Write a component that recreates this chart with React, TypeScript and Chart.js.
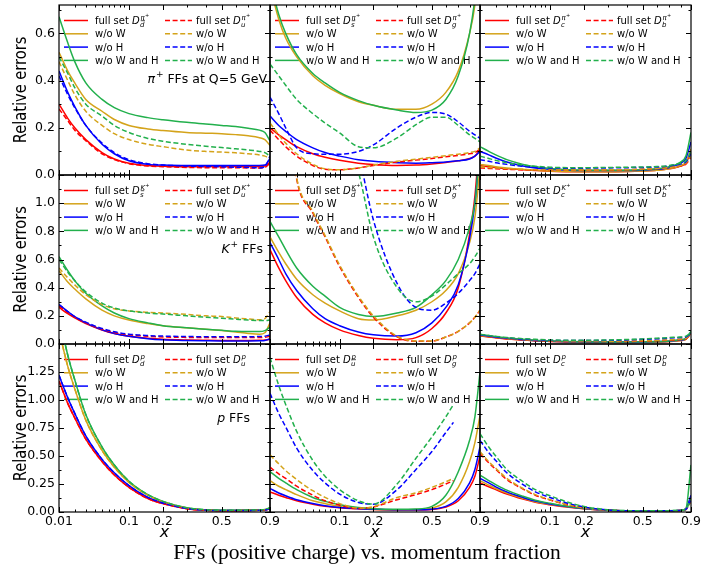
import React, { useEffect, useRef } from 'react';
import { Chart, registerables } from 'chart.js';
Chart.register(...registerables);

const W = 703;
const H = 566;

// ---------- x grid (momentum fraction) ----------
const X = [0.01, 0.015, 0.02, 0.03, 0.05, 0.07, 0.1, 0.15, 0.2, 0.3, 0.4, 0.5, 0.6, 0.7, 0.8, 0.85, 0.9];
const X_TRUNC = [0.01, 0.015, 0.02, 0.03, 0.05, 0.07, 0.1, 0.15, 0.2, 0.3, 0.4, 0.5, 0.6, 0.66];

const X_MAJOR = [0.01, 0.1, 0.2, 0.5, 0.9];
const X_MAJOR_LABELS = ['0.01', '0.1', '0.2', '0.5', '0.9'];
const X_MINOR = [0.02, 0.03, 0.04, 0.05, 0.06, 0.07, 0.08, 0.09, 0.3, 0.4, 0.6, 0.7, 0.8];

const ROW_YMAX = [0.72, 1.2, 1.5];
const ROW_Y_MAJOR = [
  [0, 0.2, 0.4, 0.6],
  [0, 0.2, 0.4, 0.6, 0.8, 1.0, 1.2],
  [0, 0.25, 0.5, 0.75, 1.0, 1.25, 1.5],
];
const ROW_Y_LABELS = [
  ['0.0', '0.2', '0.4', '0.6'],
  ['0.0', '0.2', '0.4', '0.6', '0.8', '1.0', ''],
  ['0.00', '0.25', '0.50', '0.75', '1.00', '1.25', ''],
];
const ROW_Y_MINOR = [
  [0.1, 0.3, 0.5, 0.7],
  [0.1, 0.3, 0.5, 0.7, 0.9, 1.1],
  [0.125, 0.375, 0.625, 0.875, 1.125, 1.375],
];

const SERIES_NAMES = ['full set', 'w/o W', 'w/o H', 'w/o W and H'];
const COLORS = ['#ff0000', '#d4a31a', '#0000ff', '#22b04c'];

// ---------- pi+ ----------
const piDbarFull = [0.30, 0.24, 0.20, 0.15, 0.095, 0.068, 0.05, 0.04, 0.037, 0.035, 0.035, 0.036, 0.036, 0.036, 0.036, 0.038, 0.055];
const piDbarNoW = [0.52, 0.44, 0.39, 0.32, 0.27, 0.235, 0.21, 0.195, 0.188, 0.18, 0.177, 0.175, 0.171, 0.166, 0.158, 0.15, 0.125];
const piDbarNoH = [0.44, 0.35, 0.29, 0.21, 0.13, 0.09, 0.06, 0.045, 0.042, 0.04, 0.04, 0.04, 0.04, 0.04, 0.04, 0.042, 0.07];
const piDbarNoWH = [0.67, 0.56, 0.48, 0.39, 0.32, 0.285, 0.26, 0.243, 0.234, 0.223, 0.216, 0.21, 0.205, 0.198, 0.19, 0.18, 0.145];
const piUFull = [0.28, 0.23, 0.19, 0.145, 0.09, 0.065, 0.048, 0.038, 0.035, 0.032, 0.031, 0.031, 0.031, 0.03, 0.03, 0.032, 0.05];
const piUNoW = [0.48, 0.40, 0.34, 0.27, 0.21, 0.175, 0.15, 0.13, 0.12, 0.106, 0.1, 0.097, 0.094, 0.09, 0.085, 0.08, 0.07];
const piUNoH = [0.42, 0.34, 0.285, 0.21, 0.135, 0.095, 0.065, 0.048, 0.042, 0.038, 0.036, 0.035, 0.033, 0.032, 0.03, 0.035, 0.08];
const piUNoWH = [0.50, 0.43, 0.37, 0.30, 0.25, 0.21, 0.18, 0.155, 0.143, 0.13, 0.122, 0.116, 0.111, 0.106, 0.1, 0.095, 0.08];

const piSbarFull = [0.2, 0.17, 0.15, 0.12, 0.09, 0.075, 0.062, 0.05, 0.044, 0.04, 0.042, 0.047, 0.053, 0.06, 0.07, 0.08, 0.105];
const piSbarNoW = [0.80, 0.66, 0.58, 0.5, 0.42, 0.38, 0.345, 0.31, 0.295, 0.278, 0.278, 0.3, 0.35, 0.44, 0.6, 0.72, 0.95];
const piSbarNoH = [0.25, 0.21, 0.185, 0.15, 0.115, 0.095, 0.08, 0.065, 0.058, 0.052, 0.05, 0.052, 0.055, 0.06, 0.068, 0.08, 0.1];
const piSbarNoWH = [0.82, 0.68, 0.6, 0.51, 0.43, 0.39, 0.35, 0.315, 0.295, 0.275, 0.265, 0.275, 0.32, 0.42, 0.6, 0.75, 1.0];
const piGFull = [0.19, 0.15, 0.12, 0.08, 0.04, 0.024, 0.022, 0.03, 0.04, 0.055, 0.063, 0.07, 0.077, 0.083, 0.09, 0.095, 0.11];
const piGNoW = [0.22, 0.17, 0.135, 0.09, 0.045, 0.026, 0.022, 0.03, 0.042, 0.058, 0.067, 0.075, 0.082, 0.088, 0.095, 0.1, 0.115];
const piGNoH = [0.33, 0.26, 0.2, 0.115, 0.09, 0.088, 0.088, 0.1, 0.128, 0.2, 0.245, 0.265, 0.258, 0.225, 0.185, 0.17, 0.155];
const piGNoWH = [0.47, 0.42, 0.38, 0.32, 0.26, 0.22, 0.178, 0.12, 0.115, 0.157, 0.213, 0.245, 0.245, 0.21, 0.17, 0.155, 0.14];

const piCFull = [0.04, 0.035, 0.032, 0.027, 0.022, 0.019, 0.016, 0.014, 0.014, 0.014, 0.015, 0.017, 0.02, 0.026, 0.038, 0.05, 0.1];
const piCNoW = [0.045, 0.04, 0.035, 0.03, 0.024, 0.02, 0.017, 0.015, 0.014, 0.014, 0.015, 0.017, 0.02, 0.026, 0.04, 0.055, 0.11];
const piCNoH = [0.1, 0.085, 0.072, 0.055, 0.038, 0.03, 0.024, 0.02, 0.019, 0.019, 0.019, 0.021, 0.024, 0.032, 0.05, 0.07, 0.14];
const piCNoWH = [0.12, 0.1, 0.085, 0.065, 0.045, 0.035, 0.028, 0.022, 0.02, 0.02, 0.02, 0.022, 0.026, 0.035, 0.055, 0.08, 0.18];
const piBFull = [0.03, 0.028, 0.026, 0.024, 0.022, 0.021, 0.02, 0.02, 0.02, 0.021, 0.022, 0.024, 0.027, 0.031, 0.038, 0.046, 0.075];
const piBNoW = [0.035, 0.032, 0.03, 0.027, 0.024, 0.022, 0.021, 0.021, 0.021, 0.022, 0.023, 0.025, 0.028, 0.032, 0.04, 0.05, 0.08];
const piBNoH = [0.065, 0.058, 0.052, 0.045, 0.037, 0.033, 0.03, 0.029, 0.029, 0.03, 0.031, 0.032, 0.034, 0.038, 0.047, 0.055, 0.09];
const piBNoWH = [0.08, 0.07, 0.062, 0.052, 0.042, 0.037, 0.033, 0.031, 0.031, 0.032, 0.033, 0.034, 0.036, 0.04, 0.05, 0.06, 0.1];

// ---------- K+ ----------
const kSbarFull = [0.26, 0.215, 0.185, 0.145, 0.1, 0.075, 0.055, 0.04, 0.033, 0.028, 0.026, 0.025, 0.025, 0.025, 0.026, 0.028, 0.035];
const kSbarNoW = [0.52, 0.44, 0.39, 0.32, 0.24, 0.2, 0.17, 0.145, 0.13, 0.115, 0.105, 0.095, 0.085, 0.075, 0.07, 0.08, 0.15];
const kSbarNoH = [0.28, 0.23, 0.195, 0.15, 0.1, 0.075, 0.055, 0.038, 0.03, 0.025, 0.023, 0.022, 0.022, 0.022, 0.023, 0.025, 0.035];
const kSbarNoWH = [0.62, 0.52, 0.45, 0.36, 0.27, 0.22, 0.18, 0.15, 0.13, 0.115, 0.105, 0.097, 0.09, 0.088, 0.088, 0.095, 0.12];
const kUFull = [0.27, 0.225, 0.19, 0.15, 0.105, 0.082, 0.065, 0.055, 0.05, 0.047, 0.046, 0.046, 0.046, 0.046, 0.046, 0.048, 0.055];
const kUNoW = [0.54, 0.47, 0.42, 0.35, 0.28, 0.25, 0.235, 0.225, 0.22, 0.21, 0.2, 0.195, 0.185, 0.178, 0.172, 0.18, 0.23];
const kUNoH = [0.28, 0.23, 0.195, 0.155, 0.11, 0.087, 0.07, 0.06, 0.056, 0.053, 0.052, 0.052, 0.052, 0.052, 0.053, 0.055, 0.065];
const kUNoWH = [0.6, 0.51, 0.45, 0.37, 0.29, 0.255, 0.235, 0.22, 0.213, 0.2, 0.19, 0.183, 0.176, 0.17, 0.167, 0.166, 0.17];

const kDbarFull = [0.67, 0.54, 0.45, 0.33, 0.21, 0.15, 0.1, 0.06, 0.04, 0.03, 0.045, 0.11, 0.22, 0.4, 0.78, 1.05, 1.5];
const kDbarNoW = [0.76, 0.65, 0.57, 0.46, 0.35, 0.29, 0.235, 0.18, 0.17, 0.2, 0.24, 0.3, 0.38, 0.5, 0.72, 0.9, 1.25];
const kDbarNoH = [0.72, 0.6, 0.5, 0.38, 0.25, 0.18, 0.13, 0.085, 0.065, 0.056, 0.08, 0.15, 0.26, 0.42, 0.75, 1.0, 1.4];
const kDbarNoWH = [0.87, 0.76, 0.67, 0.54, 0.41, 0.34, 0.26, 0.21, 0.195, 0.22, 0.26, 0.35, 0.45, 0.6, 0.83, 1.0, 1.4];
const kGFull = [3.0, 2.2, 1.8, 1.17, 0.93, 0.76, 0.55, 0.33, 0.19, 0.05, 0.02, 0.02, 0.05, 0.09, 0.15, 0.19, 0.24];
const kGNoW = [3.0, 2.2, 1.8, 1.18, 0.94, 0.77, 0.56, 0.34, 0.2, 0.055, 0.022, 0.022, 0.05, 0.09, 0.15, 0.19, 0.24];
const kGNoH = [7.0, 5.8, 4.8, 3.7, 2.7, 2.2, 1.8, 1.35, 0.88, 0.43, 0.26, 0.24, 0.29, 0.36, 0.45, 0.5, 0.57];
const kGNoWH = [6.0, 5.0, 4.2, 3.3, 2.4, 1.95, 1.6, 1.22, 0.76, 0.4, 0.3, 0.34, 0.42, 0.5, 0.57, 0.62, 0.68];

const kCFull = [0.058, 0.05, 0.044, 0.036, 0.028, 0.022, 0.018, 0.014, 0.012, 0.011, 0.011, 0.012, 0.014, 0.017, 0.024, 0.033, 0.078];
const kCNoW = [0.06, 0.052, 0.046, 0.038, 0.029, 0.023, 0.019, 0.015, 0.013, 0.012, 0.012, 0.013, 0.015, 0.018, 0.025, 0.035, 0.08];
const kCNoH = [0.065, 0.055, 0.049, 0.04, 0.031, 0.025, 0.02, 0.016, 0.015, 0.014, 0.014, 0.015, 0.017, 0.02, 0.028, 0.038, 0.085];
const kCNoWH = [0.07, 0.06, 0.053, 0.043, 0.033, 0.027, 0.022, 0.018, 0.016, 0.015, 0.015, 0.016, 0.018, 0.022, 0.03, 0.04, 0.09];
const kBFull = [0.06, 0.052, 0.046, 0.038, 0.03, 0.025, 0.021, 0.018, 0.017, 0.017, 0.018, 0.02, 0.023, 0.027, 0.032, 0.037, 0.068];
const kBNoW = [0.062, 0.054, 0.048, 0.04, 0.032, 0.027, 0.023, 0.02, 0.019, 0.02, 0.021, 0.023, 0.026, 0.03, 0.035, 0.04, 0.07];
const kBNoH = [0.064, 0.056, 0.05, 0.042, 0.034, 0.03, 0.026, 0.024, 0.024, 0.026, 0.029, 0.033, 0.037, 0.042, 0.046, 0.05, 0.075];
const kBNoWH = [0.068, 0.06, 0.054, 0.046, 0.038, 0.033, 0.029, 0.027, 0.027, 0.029, 0.032, 0.036, 0.041, 0.046, 0.05, 0.055, 0.08];

// ---------- p ----------
const pDFull = [1.17, 0.97, 0.84, 0.65, 0.45, 0.33, 0.22, 0.12, 0.075, 0.03, 0.015, 0.012, 0.012, 0.013, 0.015, 0.017, 0.03];
const pDNoW = [1.62, 1.3, 1.1, 0.82, 0.55, 0.4, 0.265, 0.15, 0.09, 0.035, 0.018, 0.014, 0.014, 0.015, 0.017, 0.02, 0.035];
const pDNoH = [1.22, 1.02, 0.88, 0.68, 0.47, 0.35, 0.235, 0.13, 0.08, 0.033, 0.017, 0.013, 0.013, 0.014, 0.016, 0.018, 0.032];
const pDNoWH = [1.75, 1.4, 1.18, 0.87, 0.58, 0.42, 0.275, 0.155, 0.095, 0.037, 0.02, 0.016, 0.016, 0.017, 0.019, 0.022, 0.038];
const pUFull = [1.17, 0.97, 0.84, 0.65, 0.45, 0.33, 0.22, 0.12, 0.075, 0.03, 0.015, 0.012, 0.012, 0.013, 0.015, 0.017, 0.03];
const pUNoW = [1.62, 1.3, 1.1, 0.82, 0.55, 0.4, 0.265, 0.15, 0.09, 0.035, 0.018, 0.014, 0.014, 0.015, 0.017, 0.02, 0.035];
const pUNoH = [1.22, 1.02, 0.88, 0.68, 0.47, 0.35, 0.235, 0.13, 0.08, 0.033, 0.017, 0.013, 0.013, 0.014, 0.016, 0.018, 0.032];
const pUNoWH = [1.75, 1.4, 1.18, 0.87, 0.58, 0.42, 0.275, 0.155, 0.095, 0.037, 0.02, 0.016, 0.016, 0.017, 0.019, 0.022, 0.038];

const pUbarFull = [0.18, 0.15, 0.13, 0.1, 0.07, 0.052, 0.038, 0.028, 0.022, 0.018, 0.018, 0.022, 0.045, 0.1, 0.22, 0.32, 0.5];
const pUbarNoW = [0.28, 0.23, 0.2, 0.155, 0.1, 0.075, 0.05, 0.033, 0.025, 0.02, 0.022, 0.035, 0.09, 0.22, 0.45, 0.62, 0.86];
const pUbarNoH = [0.21, 0.17, 0.145, 0.11, 0.075, 0.055, 0.04, 0.03, 0.025, 0.02, 0.02, 0.025, 0.05, 0.12, 0.26, 0.38, 0.58];
const pUbarNoWH = [0.36, 0.3, 0.26, 0.2, 0.13, 0.095, 0.065, 0.04, 0.03, 0.025, 0.027, 0.05, 0.15, 0.36, 0.64, 0.85, 1.25];
const pGFull = [0.4, 0.34, 0.3, 0.23, 0.15, 0.1, 0.06, 0.032, 0.045, 0.11, 0.155, 0.2, 0.25, 0.28];
const pGNoW = [0.51, 0.43, 0.37, 0.29, 0.19, 0.13, 0.075, 0.035, 0.048, 0.13, 0.17, 0.22, 0.27, 0.3];
const pGNoH = [1.06, 0.88, 0.76, 0.57, 0.37, 0.26, 0.16, 0.085, 0.07, 0.2, 0.38, 0.54, 0.71, 0.8];
const pGNoWH = [1.38, 1.13, 0.96, 0.72, 0.46, 0.32, 0.2, 0.1, 0.07, 0.25, 0.48, 0.67, 0.85, 0.96];

const pCFull = [0.26, 0.225, 0.2, 0.16, 0.115, 0.087, 0.065, 0.042, 0.029, 0.015, 0.01, 0.009, 0.009, 0.01, 0.013, 0.027, 0.13];
const pCNoW = [0.28, 0.24, 0.21, 0.17, 0.122, 0.092, 0.068, 0.044, 0.03, 0.015, 0.01, 0.009, 0.009, 0.01, 0.013, 0.027, 0.14];
const pCNoH = [0.3, 0.26, 0.225, 0.18, 0.13, 0.098, 0.072, 0.046, 0.031, 0.016, 0.01, 0.009, 0.009, 0.01, 0.013, 0.028, 0.15];
const pCNoWH = [0.33, 0.28, 0.245, 0.195, 0.14, 0.105, 0.078, 0.05, 0.033, 0.017, 0.011, 0.01, 0.01, 0.011, 0.014, 0.03, 0.42];
const pBFull = [0.52, 0.44, 0.38, 0.29, 0.205, 0.15, 0.107, 0.061, 0.037, 0.016, 0.01, 0.009, 0.009, 0.01, 0.013, 0.022, 0.1];
const pBNoW = [0.54, 0.45, 0.39, 0.3, 0.21, 0.155, 0.11, 0.063, 0.038, 0.016, 0.01, 0.009, 0.009, 0.01, 0.013, 0.022, 0.1];
const pBNoH = [0.64, 0.53, 0.46, 0.35, 0.245, 0.18, 0.13, 0.075, 0.045, 0.018, 0.011, 0.01, 0.01, 0.011, 0.014, 0.023, 0.11];
const pBNoWH = [0.7, 0.58, 0.5, 0.38, 0.27, 0.2, 0.145, 0.085, 0.05, 0.02, 0.012, 0.011, 0.011, 0.012, 0.015, 0.025, 0.12];

// ---------- panel layout ----------
const COL_L = [59, 270, 480];
const COL_R = [270, 480, 691];
const ROW_T = [5, 175, 344];
const ROW_B = [175, 344, 512];
const HADRONS = ['π', 'K', 'p'];

type Half = { flav: string; bar: boolean; xs: number[]; vals: number[][] };
type PanelSpec = { row: number; col: number; solid: Half; dashed: Half };

const PANELS: PanelSpec[] = [
  { row: 0, col: 0, solid: { flav: 'd', bar: true, xs: X, vals: [piDbarFull, piDbarNoW, piDbarNoH, piDbarNoWH] }, dashed: { flav: 'u', bar: false, xs: X, vals: [piUFull, piUNoW, piUNoH, piUNoWH] } },
  { row: 0, col: 1, solid: { flav: 's', bar: true, xs: X, vals: [piSbarFull, piSbarNoW, piSbarNoH, piSbarNoWH] }, dashed: { flav: 'g', bar: false, xs: X, vals: [piGFull, piGNoW, piGNoH, piGNoWH] } },
  { row: 0, col: 2, solid: { flav: 'c', bar: false, xs: X, vals: [piCFull, piCNoW, piCNoH, piCNoWH] }, dashed: { flav: 'b', bar: false, xs: X, vals: [piBFull, piBNoW, piBNoH, piBNoWH] } },
  { row: 1, col: 0, solid: { flav: 's', bar: true, xs: X, vals: [kSbarFull, kSbarNoW, kSbarNoH, kSbarNoWH] }, dashed: { flav: 'u', bar: false, xs: X, vals: [kUFull, kUNoW, kUNoH, kUNoWH] } },
  { row: 1, col: 1, solid: { flav: 'd', bar: true, xs: X, vals: [kDbarFull, kDbarNoW, kDbarNoH, kDbarNoWH] }, dashed: { flav: 'g', bar: false, xs: X, vals: [kGFull, kGNoW, kGNoH, kGNoWH] } },
  { row: 1, col: 2, solid: { flav: 'c', bar: false, xs: X, vals: [kCFull, kCNoW, kCNoH, kCNoWH] }, dashed: { flav: 'b', bar: false, xs: X, vals: [kBFull, kBNoW, kBNoH, kBNoWH] } },
  { row: 2, col: 0, solid: { flav: 'd', bar: false, xs: X, vals: [pDFull, pDNoW, pDNoH, pDNoWH] }, dashed: { flav: 'u', bar: false, xs: X, vals: [pUFull, pUNoW, pUNoH, pUNoWH] } },
  { row: 2, col: 1, solid: { flav: 'u', bar: true, xs: X, vals: [pUbarFull, pUbarNoW, pUbarNoH, pUbarNoWH] }, dashed: { flav: 'g', bar: false, xs: X_TRUNC, vals: [pGFull, pGNoW, pGNoH, pGNoWH] } },
  { row: 2, col: 2, solid: { flav: 'c', bar: false, xs: X, vals: [pCFull, pCNoW, pCNoH, pCNoWH] }, dashed: { flav: 'b', bar: false, xs: X, vals: [pBFull, pBNoW, pBNoH, pBNoWH] } },
];

const FONT = '"DejaVu Sans"';
const LEG_FS = 10;
const YW = 50;
const XH = 26;
const cbrt = (v: number) => Math.cbrt(v);

function drawLegendMath(ctx: CanvasRenderingContext2D, x: number, y: number, flav: string, bar: boolean, had: string) {
  ctx.fillStyle = '#000';
  ctx.textAlign = 'left';
  ctx.textBaseline = 'alphabetic';
  ctx.font = `${LEG_FS}px ${FONT}`;
  ctx.fillText('full set ', x, y);
  let cx = x + ctx.measureText('full set ').width;
  ctx.font = `italic ${LEG_FS}px ${FONT}`;
  ctx.fillText('D', cx, y);
  cx += ctx.measureText('D').width + 0.2;
  ctx.font = `italic 7px ${FONT}`;
  const sw = ctx.measureText(flav).width;
  ctx.fillText(flav, cx, y + 2.6);
  if (bar) {
    ctx.beginPath();
    ctx.lineWidth = 0.7;
    ctx.strokeStyle = '#000';
    ctx.setLineDash([]);
    ctx.moveTo(cx + 0.8, y - 3.4);
    ctx.lineTo(cx + sw + 0.6, y - 3.4);
    ctx.stroke();
  }
  ctx.font = `italic 7px ${FONT}`;
  ctx.fillText(had, cx + 0.5, y - 4.5);
  const hw = ctx.measureText(had).width;
  if (had !== 'p') {
    ctx.font = `5px ${FONT}`;
    ctx.fillText('+', cx + 0.8 + hw, y - 7);
  }
}

function drawAnnotation(ctx: CanvasRenderingContext2D, row: number, right: number, cy: number) {
  const fs = 12.5;
  const had = HADRONS[row];
  const rest = row === 0 ? ' FFs at Q=5 GeV' : ' FFs';
  ctx.textBaseline = 'middle';
  ctx.textAlign = 'left';
  ctx.fillStyle = '#000';
  ctx.font = `italic ${fs}px ${FONT}`;
  const hw = ctx.measureText(had).width;
  ctx.font = `9px ${FONT}`;
  const pw = row === 2 ? 0 : ctx.measureText('+').width + 1;
  ctx.font = `${fs}px ${FONT}`;
  const rw = ctx.measureText(rest).width;
  let x = right - (hw + pw + rw);
  ctx.font = `italic ${fs}px ${FONT}`;
  ctx.fillText(had, x, cy);
  x += hw;
  if (row !== 2) {
    ctx.font = `9px ${FONT}`;
    ctx.fillText('+', x + 1, cy - 5);
    x += pw;
  }
  ctx.font = `${fs}px ${FONT}`;
  ctx.fillText(rest, x, cy);
}

function makeDecor(spec: PanelSpec) {
  const { row, col } = spec;
  return {
    id: 'decor' + row + col,
    beforeDatasetsDraw(chart: any) {
      const ctx: CanvasRenderingContext2D = chart.ctx;
      const ca = chart.chartArea;
      ctx.save();
      for (let i = 0; i < 4; i++) {
        const cy = ca.top + 15.5 + i * 13.3;
        ctx.strokeStyle = COLORS[i];
        ctx.lineWidth = 1.5;
        ctx.setLineDash([]);
        ctx.beginPath();
        ctx.moveTo(ca.left + 5, cy);
        ctx.lineTo(ca.left + 29, cy);
        ctx.stroke();
        ctx.setLineDash([5, 2.6]);
        ctx.beginPath();
        ctx.moveTo(ca.left + 106, cy);
        ctx.lineTo(ca.left + 133, cy);
        ctx.stroke();
        ctx.setLineDash([]);
        const ty = cy + 3.6;
        if (i === 0) {
          drawLegendMath(ctx, ca.left + 36, ty, spec.solid.flav, spec.solid.bar, HADRONS[row]);
          drawLegendMath(ctx, ca.left + 137, ty, spec.dashed.flav, spec.dashed.bar, HADRONS[row]);
        } else {
          ctx.fillStyle = '#000';
          ctx.textAlign = 'left';
          ctx.textBaseline = 'alphabetic';
          ctx.font = `${LEG_FS}px ${FONT}`;
          ctx.fillText(SERIES_NAMES[i], ca.left + 36, ty);
          ctx.fillText(SERIES_NAMES[i], ca.left + 137, ty);
        }
      }
      if (col === 0) {
        const rights = [267, 263, 250];
        const cys = [80, 250, 419];
        drawAnnotation(ctx, row, rights[row], cys[row]);
      }
      ctx.restore();
    },
    afterDraw(chart: any) {
      const ctx: CanvasRenderingContext2D = chart.ctx;
      const ca = chart.chartArea;
      const xs = chart.scales.x;
      const ys = chart.scales.y;
      ctx.save();
      ctx.strokeStyle = '#000';
      ctx.lineWidth = 1;
      ctx.setLineDash([]);
      ctx.beginPath();
      const tick = (x1: number, y1: number, x2: number, y2: number) => {
        ctx.moveTo(x1, y1);
        ctx.lineTo(x2, y2);
      };
      X_MAJOR.forEach((v) => {
        const px = Math.round(xs.getPixelForValue(cbrt(v))) + 0.5;
        tick(px, ca.bottom, px, ca.bottom - 5);
        tick(px, ca.top, px, ca.top + 5);
      });
      X_MINOR.forEach((v) => {
        const px = Math.round(xs.getPixelForValue(cbrt(v))) + 0.5;
        tick(px, ca.bottom, px, ca.bottom - 2.5);
        tick(px, ca.top, px, ca.top + 2.5);
      });
      ROW_Y_MAJOR[row].forEach((v) => {
        const py = Math.round(ys.getPixelForValue(v)) + 0.5;
        tick(ca.left, py, ca.left + 5, py);
        tick(ca.right, py, ca.right - 5, py);
      });
      ROW_Y_MINOR[row].forEach((v) => {
        const py = Math.round(ys.getPixelForValue(v)) + 0.5;
        tick(ca.left, py, ca.left + 2.5, py);
        tick(ca.right, py, ca.right - 2.5, py);
      });
      ctx.stroke();
      ctx.lineWidth = 1.2;
      ctx.strokeRect(ca.left, ca.top, ca.right - ca.left, ca.bottom - ca.top);

      ctx.fillStyle = '#000';
      if (col === 0) {
        ctx.save();
        ctx.translate(22, (ca.top + ca.bottom) / 2);
        ctx.rotate(-Math.PI / 2);
        ctx.scale(0.86, 1);
        ctx.textAlign = 'center';
        ctx.textBaseline = 'middle';
        ctx.font = `17px ${FONT}`;
        ctx.fillText('Relative errors', 0, 0);
        ctx.restore();
      }
      if (row === 2) {
        ctx.textAlign = 'center';
        ctx.textBaseline = 'middle';
        ctx.font = `italic 16px ${FONT}`;
        ctx.fillText('x', (ca.left + ca.right) / 2, 533);
        if (col === 0) {
          ctx.font = '21.5px "Liberation Serif"';
          ctx.fillText('FFs (positive charge) vs. momentum fraction', 367, 553);
        }
      }
      ctx.restore();
    },
  };
}

function buildConfig(spec: PanelSpec): any {
  const { row, col } = spec;
  const L = COL_L[col], R = COL_R[col], T = ROW_T[row], B = ROW_B[row];
  const datasets: any[] = [];
  const addHalf = (half: Half, dashed: boolean) => {
    half.vals.forEach((vals, i) => {
      datasets.push({
        label: SERIES_NAMES[i] + (dashed ? ' (dashed)' : ''),
        data: half.xs.map((x, k) => ({ x: cbrt(x), y: vals[k] })),
        borderColor: COLORS[i],
        backgroundColor: COLORS[i],
        borderWidth: 1.5,
        borderDash: dashed ? [5, 2.6] : [],
        pointRadius: 0,
        fill: false,
        cubicInterpolationMode: 'monotone',
        clip: 0,
      });
    });
  };
  addHalf(spec.solid, false);
  addHalf(spec.dashed, true);
  datasets.reverse();

  const showX = row === 2;
  const showY = col === 0;
  return {
    type: 'line',
    data: { datasets },
    plugins: [makeDecor(spec)],
    options: {
      responsive: false,
      animation: false,
      devicePixelRatio: 1,
      events: [],
      layout: { padding: { left: L - YW, right: W - R, top: T, bottom: H - B - XH } },
      plugins: { legend: { display: false }, tooltip: { enabled: false } },
      scales: {
        x: {
          type: 'linear',
          min: cbrt(0.01),
          max: cbrt(0.9),
          grid: { display: false, drawTicks: false },
          border: { display: false },
          ticks: {
            display: showX,
            autoSkip: false,
            maxRotation: 0,
            minRotation: 0,
            padding: 2,
            color: '#000',
            font: { family: 'DejaVu Sans', size: 12.5 },
            callback: (_v: any, idx: number) => (col > 0 && idx === 0 ? '' : X_MAJOR_LABELS[idx]),
          },
          afterBuildTicks: (s: any) => {
            s.ticks = X_MAJOR.map((v) => ({ value: cbrt(v) }));
          },
          afterFit: (s: any) => {
            s.height = XH;
            s.paddingLeft = 0;
            s.paddingRight = 0;
          },
        },
        y: {
          type: 'linear',
          min: 0,
          max: ROW_YMAX[row],
          grid: { display: false, drawTicks: false },
          border: { display: false },
          ticks: {
            display: showY,
            autoSkip: false,
            padding: 4,
            color: '#000',
            font: { family: 'DejaVu Sans', size: 12.5 },
            callback: (_v: any, idx: number) => ROW_Y_LABELS[row][idx],
          },
          afterBuildTicks: (s: any) => {
            s.ticks = ROW_Y_MAJOR[row].map((v) => ({ value: v }));
          },
          afterFit: (s: any) => {
            s.width = YW;
            s.paddingTop = 0;
            s.paddingBottom = 0;
          },
        },
      },
    },
  };
}

function Panel({ spec }: { spec: PanelSpec }) {
  const ref = useRef<HTMLCanvasElement>(null);
  useEffect(() => {
    if (!ref.current) return;
    const chart = new Chart(ref.current, buildConfig(spec));
    return () => chart.destroy();
  }, [spec]);
  return (
    <canvas
      ref={ref}
      width={W}
      height={H}
      style={{ position: 'absolute', left: 0, top: 0, width: W, height: H }}
    />
  );
}

export default function App() {
  return (
    <div style={{ position: 'absolute', left: 0, top: 0, width: W, height: H, background: '#fff', overflow: 'hidden' }}>
      {PANELS.map((p) => (
        <Panel key={`${p.row}-${p.col}`} spec={p} />
      ))}
    </div>
  );
}
